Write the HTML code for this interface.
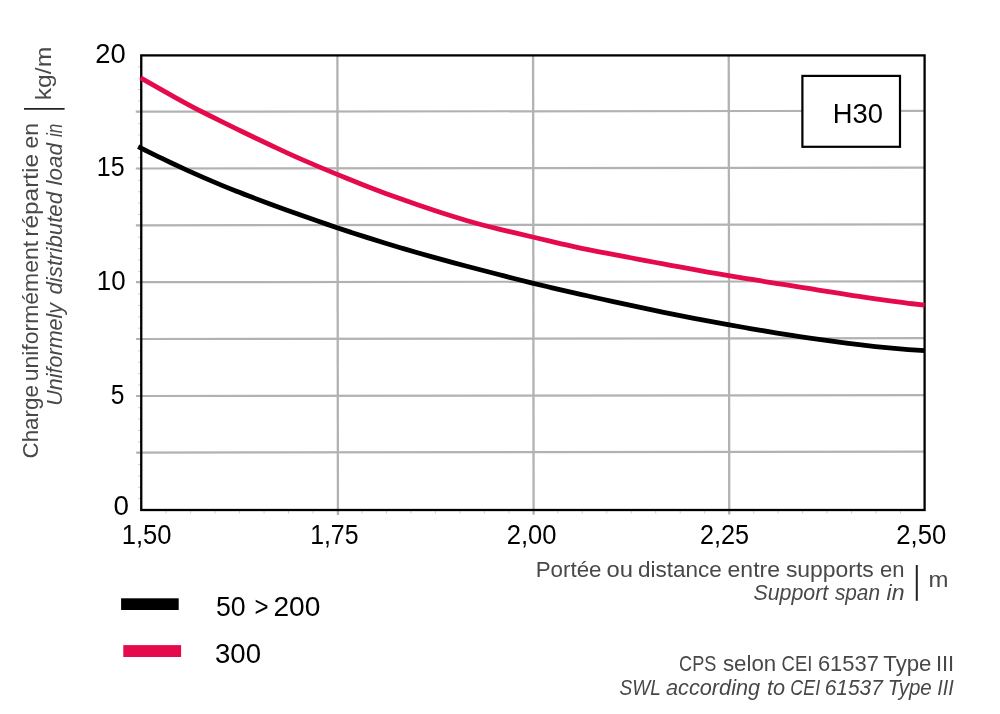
<!DOCTYPE html>
<html lang="fr">
<head>
<meta charset="utf-8">
<title>H30 – Charge uniformément répartie</title>
<style>
html,body{margin:0;padding:0;background:#fff;}
body{width:1000px;height:714px;overflow:hidden;font-family:"Liberation Sans",sans-serif;}
svg{display:block;}
text{font-family:"Liberation Sans",sans-serif;}
.tick{font-size:28px;fill:#000;}
.lab{font-size:22.4px;fill:#484848;}
.it{font-style:italic;}
</style>
</head>
<body>
<svg width="1000" height="714" viewBox="0 0 1000 714">
<rect width="1000" height="714" fill="#fff"/>

<g stroke="#cfcfcf" stroke-width="1">
<line x1="138.05" y1="66.77" x2="141.25" y2="66.77"/>
<line x1="138.05" y1="78.13" x2="141.25" y2="78.13"/>
<line x1="138.05" y1="89.50" x2="141.25" y2="89.50"/>
<line x1="138.05" y1="100.86" x2="141.25" y2="100.86"/>
<line x1="138.05" y1="112.22" x2="141.25" y2="112.22"/>
<line x1="138.05" y1="123.59" x2="141.25" y2="123.59"/>
<line x1="138.05" y1="134.96" x2="141.25" y2="134.96"/>
<line x1="138.05" y1="146.32" x2="141.25" y2="146.32"/>
<line x1="138.05" y1="157.69" x2="141.25" y2="157.69"/>
<line x1="138.05" y1="169.05" x2="141.25" y2="169.05"/>
<line x1="138.05" y1="180.41" x2="141.25" y2="180.41"/>
<line x1="138.05" y1="191.78" x2="141.25" y2="191.78"/>
<line x1="138.05" y1="203.15" x2="141.25" y2="203.15"/>
<line x1="138.05" y1="214.51" x2="141.25" y2="214.51"/>
<line x1="138.05" y1="225.88" x2="141.25" y2="225.88"/>
<line x1="138.05" y1="237.24" x2="141.25" y2="237.24"/>
<line x1="138.05" y1="248.61" x2="141.25" y2="248.61"/>
<line x1="138.05" y1="259.97" x2="141.25" y2="259.97"/>
<line x1="138.05" y1="271.33" x2="141.25" y2="271.33"/>
<line x1="138.05" y1="282.70" x2="141.25" y2="282.70"/>
<line x1="138.05" y1="294.06" x2="141.25" y2="294.06"/>
<line x1="138.05" y1="305.43" x2="141.25" y2="305.43"/>
<line x1="138.05" y1="316.79" x2="141.25" y2="316.79"/>
<line x1="138.05" y1="328.16" x2="141.25" y2="328.16"/>
<line x1="138.05" y1="339.52" x2="141.25" y2="339.52"/>
<line x1="138.05" y1="350.89" x2="141.25" y2="350.89"/>
<line x1="138.05" y1="362.25" x2="141.25" y2="362.25"/>
<line x1="138.05" y1="373.62" x2="141.25" y2="373.62"/>
<line x1="138.05" y1="384.98" x2="141.25" y2="384.98"/>
<line x1="138.05" y1="396.35" x2="141.25" y2="396.35"/>
<line x1="138.05" y1="407.71" x2="141.25" y2="407.71"/>
<line x1="138.05" y1="419.08" x2="141.25" y2="419.08"/>
<line x1="138.05" y1="430.44" x2="141.25" y2="430.44"/>
<line x1="138.05" y1="441.81" x2="141.25" y2="441.81"/>
<line x1="138.05" y1="453.18" x2="141.25" y2="453.18"/>
<line x1="138.05" y1="464.54" x2="141.25" y2="464.54"/>
<line x1="138.05" y1="475.90" x2="141.25" y2="475.90"/>
<line x1="138.05" y1="487.27" x2="141.25" y2="487.27"/>
<line x1="138.05" y1="498.63" x2="141.25" y2="498.63"/>
<line x1="166.13" y1="510.00" x2="166.13" y2="513.50"/>
<line x1="190.61" y1="510.00" x2="190.61" y2="513.50"/>
<line x1="215.09" y1="510.00" x2="215.09" y2="513.50"/>
<line x1="239.57" y1="510.00" x2="239.57" y2="513.50"/>
<line x1="264.05" y1="510.00" x2="264.05" y2="513.50"/>
<line x1="288.53" y1="510.00" x2="288.53" y2="513.50"/>
<line x1="313.01" y1="510.00" x2="313.01" y2="513.50"/>
<line x1="337.49" y1="510.00" x2="337.49" y2="513.50"/>
<line x1="361.97" y1="510.00" x2="361.97" y2="513.50"/>
<line x1="386.45" y1="510.00" x2="386.45" y2="513.50"/>
<line x1="410.93" y1="510.00" x2="410.93" y2="513.50"/>
<line x1="435.41" y1="510.00" x2="435.41" y2="513.50"/>
<line x1="459.89" y1="510.00" x2="459.89" y2="513.50"/>
<line x1="484.37" y1="510.00" x2="484.37" y2="513.50"/>
<line x1="508.85" y1="510.00" x2="508.85" y2="513.50"/>
<line x1="533.32" y1="510.00" x2="533.32" y2="513.50"/>
<line x1="557.80" y1="510.00" x2="557.80" y2="513.50"/>
<line x1="582.28" y1="510.00" x2="582.28" y2="513.50"/>
<line x1="606.76" y1="510.00" x2="606.76" y2="513.50"/>
<line x1="631.24" y1="510.00" x2="631.24" y2="513.50"/>
<line x1="655.72" y1="510.00" x2="655.72" y2="513.50"/>
<line x1="680.20" y1="510.00" x2="680.20" y2="513.50"/>
<line x1="704.68" y1="510.00" x2="704.68" y2="513.50"/>
<line x1="729.16" y1="510.00" x2="729.16" y2="513.50"/>
<line x1="753.64" y1="510.00" x2="753.64" y2="513.50"/>
<line x1="778.12" y1="510.00" x2="778.12" y2="513.50"/>
<line x1="802.60" y1="510.00" x2="802.60" y2="513.50"/>
<line x1="827.08" y1="510.00" x2="827.08" y2="513.50"/>
<line x1="851.56" y1="510.00" x2="851.56" y2="513.50"/>
<line x1="876.04" y1="510.00" x2="876.04" y2="513.50"/>
<line x1="900.52" y1="510.00" x2="900.52" y2="513.50"/>
</g>
<g transform="rotate(-0.066 141 282)">
<g stroke="#b3b2b3" stroke-width="2.2">
<line x1="135.95" y1="111.70" x2="924.60" y2="111.70"/>
<line x1="135.95" y1="168.50" x2="924.60" y2="168.50"/>
<line x1="135.95" y1="225.30" x2="924.60" y2="225.30"/>
<line x1="135.95" y1="282.20" x2="924.60" y2="282.20"/>
<line x1="135.95" y1="339.00" x2="924.60" y2="339.00"/>
<line x1="135.95" y1="396.00" x2="924.60" y2="396.00"/>
<line x1="135.95" y1="452.60" x2="924.60" y2="452.60"/>
</g>
<g stroke="#b3b2b3" stroke-width="2.3">
<line x1="337.65" y1="55.40" x2="337.65" y2="515.20"/>
<line x1="533.35" y1="55.40" x2="533.35" y2="515.20"/>
<line x1="729.00" y1="55.40" x2="729.00" y2="515.20"/>
</g>
</g>
<rect x="141.25" y="55.40" width="783.35" height="454.60" fill="none" stroke="#000" stroke-width="2.30"/>
<path d="M140.60 77.81C146.04 80.92 151.49 84.08 156.93 87.20C162.38 90.32 167.82 93.38 173.27 96.38C178.71 99.38 184.16 102.37 189.60 105.28C195.04 108.19 200.49 111.00 205.93 113.74C211.38 116.49 216.82 119.21 222.27 121.89C227.71 124.58 233.16 127.23 238.60 129.88C244.04 132.53 249.49 135.17 254.93 137.78C260.38 140.40 265.82 142.98 271.27 145.53C276.71 148.07 282.16 150.62 287.60 153.11C293.04 155.60 298.49 158.02 303.93 160.38C309.38 162.74 314.82 165.06 320.27 167.35C325.71 169.64 331.16 171.89 336.60 174.10C342.04 176.32 347.49 178.58 352.93 180.81C358.38 183.05 363.82 185.25 369.27 187.34C374.71 189.43 380.16 191.46 385.60 193.46C391.04 195.46 396.49 197.41 401.93 199.33C407.38 201.25 412.82 203.13 418.27 204.98C423.71 206.83 429.16 208.72 434.60 210.57C440.04 212.41 445.49 214.14 450.93 215.82C456.38 217.50 461.82 219.15 467.27 220.75C472.71 222.36 478.16 223.83 483.60 225.21C489.04 226.60 494.49 227.99 499.93 229.30C505.38 230.62 510.82 231.88 516.27 233.15C521.71 234.42 527.16 235.69 532.60 237.01C538.04 238.34 543.49 239.65 548.93 240.94C554.38 242.22 559.82 243.48 565.27 244.71C570.71 245.94 576.16 247.14 581.60 248.29C587.04 249.44 592.49 250.53 597.93 251.58C603.38 252.64 608.82 253.66 614.27 254.67C619.71 255.69 625.16 256.70 630.60 257.74C636.04 258.78 641.49 259.81 646.93 260.85C652.38 261.88 657.82 262.91 663.27 263.92C668.71 264.93 674.16 265.93 679.60 266.93C685.04 267.94 690.49 268.95 695.93 269.94C701.38 270.93 706.82 271.91 712.27 272.86C717.71 273.81 723.16 274.72 728.60 275.62C734.04 276.52 739.49 277.41 744.93 278.30C750.38 279.19 755.82 280.07 761.27 280.95C766.71 281.83 772.16 282.69 777.60 283.55C783.04 284.42 788.49 285.27 793.93 286.13C799.38 286.99 804.82 287.86 810.27 288.73C815.71 289.61 821.16 290.49 826.60 291.37C832.04 292.25 837.49 293.12 842.93 293.98C848.38 294.83 853.82 295.67 859.27 296.49C864.71 297.31 870.16 298.12 875.60 298.90C881.04 299.68 886.49 300.44 891.93 301.17C897.38 301.90 902.82 302.60 908.27 303.26C913.71 303.92 919.16 304.54 924.60 305.11" fill="none" stroke="#e50a4b" stroke-width="4.8"/>
<path d="M138.20 146.65C143.66 149.51 149.12 152.26 154.58 154.93C160.04 157.61 165.51 160.20 170.97 162.76C176.43 165.31 181.89 167.85 187.35 170.34C192.81 172.83 198.27 175.26 203.73 177.65C209.19 180.03 214.66 182.36 220.12 184.64C225.58 186.92 231.04 189.15 236.50 191.30C241.96 193.46 247.42 195.54 252.88 197.60C258.34 199.66 263.81 201.69 269.27 203.72C274.73 205.76 280.19 207.76 285.65 209.74C291.11 211.72 296.57 213.66 302.03 215.58C307.49 217.51 312.96 219.40 318.42 221.27C323.88 223.14 329.34 225.11 334.80 226.98C340.26 228.84 345.72 230.62 351.18 232.40C356.64 234.18 362.11 235.93 367.57 237.66C373.03 239.39 378.49 241.09 383.95 242.76C389.41 244.44 394.87 246.09 400.33 247.72C405.79 249.34 411.26 250.95 416.72 252.52C422.18 254.09 427.64 255.62 433.10 257.13C438.56 258.64 444.02 260.13 449.48 261.61C454.94 263.10 460.41 264.56 465.87 266.00C471.33 267.44 476.79 268.86 482.25 270.28C487.71 271.70 493.17 273.11 498.63 274.52C504.09 275.93 509.56 277.33 515.02 278.71C520.48 280.09 525.94 281.45 531.40 282.80C536.86 284.16 542.32 285.48 547.78 286.76C553.24 288.05 558.71 289.32 564.17 290.57C569.63 291.82 575.09 293.05 580.55 294.29C586.01 295.52 591.47 296.77 596.93 297.99C602.39 299.22 607.86 300.44 613.32 301.64C618.78 302.84 624.24 304.03 629.70 305.20C635.16 306.38 640.62 307.54 646.08 308.68C651.54 309.83 657.01 310.96 662.47 312.07C667.93 313.19 673.39 314.29 678.85 315.38C684.31 316.46 689.77 317.53 695.23 318.57C700.69 319.62 706.16 320.64 711.62 321.65C717.08 322.66 722.54 323.65 728.00 324.63C733.46 325.61 738.92 326.57 744.38 327.51C749.84 328.46 755.31 329.39 760.77 330.31C766.23 331.22 771.69 332.13 777.15 333.02C782.61 333.90 788.07 334.77 793.53 335.62C798.99 336.46 804.46 337.29 809.92 338.09C815.38 338.90 820.84 339.68 826.30 340.44C831.76 341.20 837.22 341.93 842.68 342.64C848.14 343.34 853.61 344.02 859.07 344.67C864.53 345.32 869.99 345.94 875.45 346.52C880.91 347.10 886.37 347.65 891.83 348.16C897.29 348.66 902.76 349.13 908.22 349.55C913.68 349.97 919.14 350.35 924.60 350.67" fill="none" stroke="#000" stroke-width="4.8"/>
<rect x="802.4" y="75.9" width="97.6" height="70.9" fill="#fff" stroke="#000" stroke-width="2.2"/>
<text class="tick" transform="translate(832.75 123.10) scale(0.9771 1)">H30</text>
<text class="tick" transform="translate(95.33 63.20) scale(0.9791 1)">20</text>
<text class="tick" transform="translate(96.83 176.20) scale(0.8925 1)">15</text>
<text class="tick" transform="translate(96.76 289.90) scale(0.9250 1)">10</text>
<text class="tick" transform="translate(110.73 404.10) scale(0.8797 1)">5</text>
<text class="tick" transform="translate(113.41 515.00) scale(0.9925 1)">0</text>
<text class="tick" transform="translate(121.68 544.00) scale(0.9142 1)">1,50</text>
<text class="tick" transform="translate(310.13 544.00) scale(0.8887 1)">1,75</text>
<text class="tick" transform="translate(506.72 544.00) scale(0.9135 1)">2,00</text>
<text class="tick" transform="translate(700.04 544.00) scale(0.8998 1)">2,25</text>
<text class="tick" transform="translate(896.22 544.00) scale(0.9173 1)">2,50</text>
<text class="lab" transform="translate(535.71 577.20) scale(0.9968 1)">Portée</text>
<text class="lab" transform="translate(606.54 577.20) scale(1.0619 1)">ou</text>
<text class="lab" transform="translate(638.10 577.20) scale(1.0049 1)">distance</text>
<text class="lab" transform="translate(727.58 577.20) scale(1.0264 1)">entre</text>
<text class="lab" transform="translate(785.89 577.20) scale(1.0237 1)">supports</text>
<text class="lab" transform="translate(880.12 577.20) scale(0.9823 1)">en</text>
<text class="lab it" transform="translate(753.43 600.30) scale(0.9542 1)">Support</text>
<text class="lab it" transform="translate(834.91 600.30) scale(0.9283 1)">span</text>
<text class="lab it" transform="translate(886.59 600.30) scale(1.0313 1)">in</text>
<line x1="916.8" y1="565.0" x2="916.8" y2="600.8" stroke="#222" stroke-width="2"/>
<text class="lab" transform="translate(928.39 587.00) scale(1.0701 1)">m</text>
<text class="lab" transform="translate(38.40 458.50) rotate(-90) scale(1.0000 1)">Charge</text>
<text class="lab" transform="translate(38.40 381.34) rotate(-90) scale(1.0258 1)">uniformément</text>
<text class="lab" transform="translate(38.40 236.63) rotate(-90) scale(1.0898 1)">répartie</text>
<text class="lab" transform="translate(38.40 148.42) rotate(-90) scale(1.0177 1)">en</text>
<text class="lab it" transform="translate(62.30 405.84) rotate(-90) scale(0.9624 1)">Uniformely</text>
<text class="lab it" transform="translate(62.30 294.50) rotate(-90) scale(0.9932 1)">distributed</text>
<text class="lab it" transform="translate(62.30 185.40) rotate(-90) scale(1.0047 1)">load</text>
<text class="lab it" transform="translate(62.30 137.00) rotate(-90) scale(0.7625 1)">in</text>
<line x1="24" y1="108.9" x2="64.6" y2="108.9" stroke="#222" stroke-width="1.8"/>
<text class="lab" transform="translate(50.80 100.26) rotate(-90) scale(1.1053 1)">kg/m</text>
<rect x="121.1" y="598.3" width="57.6" height="11.7" fill="#000"/>
<rect x="123.3" y="645.1" width="57.8" height="11.9" fill="#e50a4b"/>
<text class="tick" transform="translate(215.95 615.90) scale(0.9552 1)">50</text>
<text class="tick" transform="translate(254.50 615.90) scale(0.8603 1)">&gt;</text>
<text class="tick" transform="translate(273.39 615.90) scale(1.0045 1)">200</text>
<text class="tick" transform="translate(215.02 662.50) scale(0.9843 1)">300</text>
<text class="lab" transform="translate(679.11 670.90) scale(0.8087 1)">CPS</text>
<text class="lab" transform="translate(722.90 670.90) scale(0.9961 1)">selon</text>
<text class="lab" transform="translate(781.59 670.90) scale(0.8246 1)">CEI</text>
<text class="lab" transform="translate(817.92 670.90) scale(0.9800 1)">61537</text>
<text class="lab" transform="translate(883.30 670.90) scale(0.9915 1)">Type</text>
<text class="lab" transform="translate(935.94 670.90) scale(0.9793 1)">III</text>
<text class="lab it" transform="translate(619.49 694.60) scale(0.8513 1)">SWL</text>
<text class="lab it" transform="translate(666.02 694.60) scale(0.9689 1)">according</text>
<text class="lab it" transform="translate(767.03 694.60) scale(0.9706 1)">to</text>
<text class="lab it" transform="translate(790.34 694.60) scale(0.7994 1)">CEI</text>
<text class="lab it" transform="translate(824.68 694.60) scale(0.9352 1)">61537</text>
<text class="lab it" transform="translate(887.67 694.60) scale(0.9161 1)">Type</text>
<text class="lab it" transform="translate(937.20 694.60) scale(0.8857 1)">III</text>
</svg>
</body>
</html>
